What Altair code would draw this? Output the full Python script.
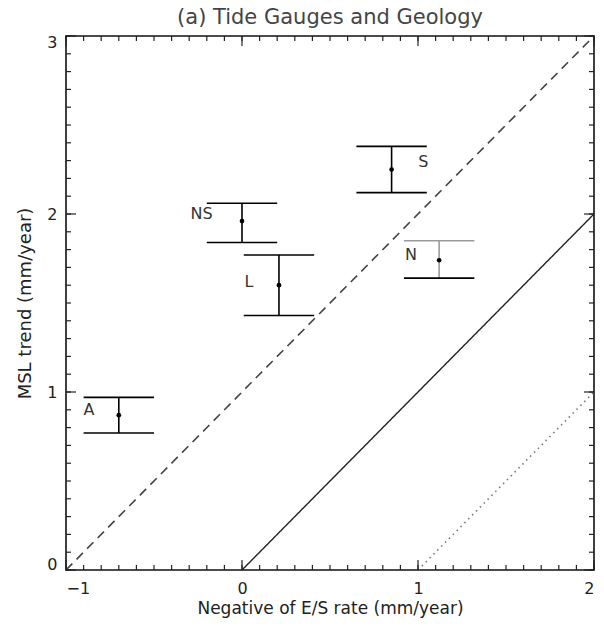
import altair as alt
import numpy as np
import pandas as pd

# Data
TITLE = "(a) Tide Gauges and Geology"
names = ["A", "NS", "L", "S", "N"]
x_vals = [-0.70, 0.00, 0.21, 0.85, 1.12]
y_vals = [0.87, 1.96, 1.60, 2.25, 1.74]
y_lo = [0.77, 1.84, 1.43, 2.12, 1.64]
y_hi = [0.97, 2.06, 1.77, 2.38, 1.85]
label_x = [-0.87, -0.23, 0.04, 1.03, 0.96]
label_y = [0.90, 2.00, 1.62, 2.29, 1.77]

# Reference lines y = x + offset, from x_start to x_end
line_names = ["dashed", "solid", "dotted"]
line_offset = [1.0, 0.0, -1.0]
line_x_start = [-1.0, 0.0, 1.0]
line_x_end = [2.0, 2.0, 2.0]

x_ticks = [-1, 0, 1, 2]
y_ticks = [0, 1, 2, 3]

CAP = 0.2
W, H = 528, 534
FONT = "DejaVu Sans"

pts = pd.DataFrame({"name": names, "x": x_vals, "y": y_vals, "lo": y_lo, "hi": y_hi,
                    "lx": label_x, "ly": label_y})
pts["xl"] = pts["x"] - CAP
pts["xr"] = pts["x"] + CAP
pts["gray"] = pts["name"] == "N"

rows = []
for n, o, a, b in zip(line_names, line_offset, line_x_start, line_x_end):
    rows.append({"line": n, "x": a, "y": a + o})
    rows.append({"line": n, "x": b, "y": b + o})
lines = pd.DataFrame(rows)

xs = alt.Scale(domain=[-1, 2], nice=False, zero=False)
ys = alt.Scale(domain=[0, 3], nice=False, zero=False)

base = alt.Chart(pts)

def ref_line(name, color, dash, width):
    return alt.Chart(lines).transform_filter(alt.datum.line == name).mark_line(
        color=color, strokeDash=dash, strokeWidth=width, clip=True
    ).encode(x=alt.X("x:Q", scale=xs), y=alt.Y("y:Q", scale=ys))

dashed = ref_line("dashed", "#444", [9, 6], 1.6)
solid = ref_line("solid", "#222", [1, 0], 1.4)
dotted = ref_line("dotted", "#777", [1.5, 4], 1.6)

col = alt.condition(alt.datum.gray, alt.value("#9a9a9a"), alt.value("black"))

vbar = base.mark_rule(strokeWidth=1.6).encode(
    x=alt.X("x:Q", scale=xs), y=alt.Y("lo:Q", scale=ys), y2="hi:Q", color=col)
top_cap = base.mark_rule(strokeWidth=1.6).encode(
    x=alt.X("xl:Q", scale=xs), x2="xr:Q", y=alt.Y("hi:Q", scale=ys), color=col)
bot_cap = base.mark_rule(strokeWidth=1.6, color="black").encode(
    x=alt.X("xl:Q", scale=xs), x2="xr:Q", y=alt.Y("lo:Q", scale=ys))
dots = base.mark_circle(size=22, color="black", opacity=1).encode(
    x=alt.X("x:Q", scale=xs), y=alt.Y("y:Q", scale=ys))
labels = base.mark_text(font=FONT, fontSize=16, color="#333").encode(
    x=alt.X("lx:Q", scale=xs), y=alt.Y("ly:Q", scale=ys), text="name:N")

title = alt.Chart(pd.DataFrame({"t": [TITLE]})).mark_text(
    font=FONT, fontSize=21, color="#444", baseline="alphabetic", align="center"
).encode(x=alt.value(W / 2), y=alt.value(-12), text="t:N")

# Inward ticks
minor_x = pd.DataFrame({"t": np.round(np.arange(-1, 2.0001, 0.1), 2)})
major_x = pd.DataFrame({"t": x_ticks})
minor_y = pd.DataFrame({"t": np.round(np.arange(0, 3.0001, 0.1), 2)})
major_y = pd.DataFrame({"t": y_ticks})

def xticks(df, length):
    b = alt.Chart(df).mark_rule(color="#222", strokeWidth=1.2).encode(
        x=alt.X("t:Q", scale=xs), y=alt.value(H), y2=alt.value(H - length))
    t = alt.Chart(df).mark_rule(color="#222", strokeWidth=1.2).encode(
        x=alt.X("t:Q", scale=xs), y=alt.value(0), y2=alt.value(length))
    return b + t

def yticks(df, length):
    l = alt.Chart(df).mark_rule(color="#222", strokeWidth=1.2).encode(
        y=alt.Y("t:Q", scale=ys), x=alt.value(0), x2=alt.value(length))
    r = alt.Chart(df).mark_rule(color="#222", strokeWidth=1.2).encode(
        y=alt.Y("t:Q", scale=ys), x=alt.value(W), x2=alt.value(W - length))
    return l + r

axes = alt.Chart(pts).mark_point(opacity=0).encode(
    x=alt.X("x:Q", scale=xs, title="Negative of E/S rate (mm/year)",
            axis=alt.Axis(values=x_ticks, ticks=False, domain=False, grid=False,
                          labelPadding=10, labelFontSize=16, labelFont=FONT,
                          labelColor="#222", titleFont=FONT, titleFontSize=17,
                          titleFontWeight="normal", titleColor="#222", titlePadding=4,
                          format="d")),
    y=alt.Y("y:Q", scale=ys, title="MSL trend (mm/year)",
            axis=alt.Axis(values=y_ticks, ticks=False, domain=False, grid=False,
                          labelPadding=9, labelFontSize=16, labelFont=FONT,
                          labelColor="#222", labelFlush=True, labelFlushOffset=2,
                          titleFont=FONT, titleFontSize=18,
                          titleFontWeight="normal", titleColor="#222", titlePadding=12,
                          format="d")),
)

chart = alt.layer(
    axes, dashed, solid, dotted,
    xticks(minor_x, 5), xticks(major_x, 10), yticks(minor_y, 5), yticks(major_y, 10),
    vbar, top_cap, bot_cap, dots, labels, title,
).properties(
    width=W, height=H,
    autosize=alt.AutoSizeParams(type="none"),
    padding={"left": 58, "top": 28, "right": 2, "bottom": 48},
).configure_view(stroke="#111", strokeWidth=1.6)

chart.save("out.html", embed_options={"renderer": "svg", "actions": False})
